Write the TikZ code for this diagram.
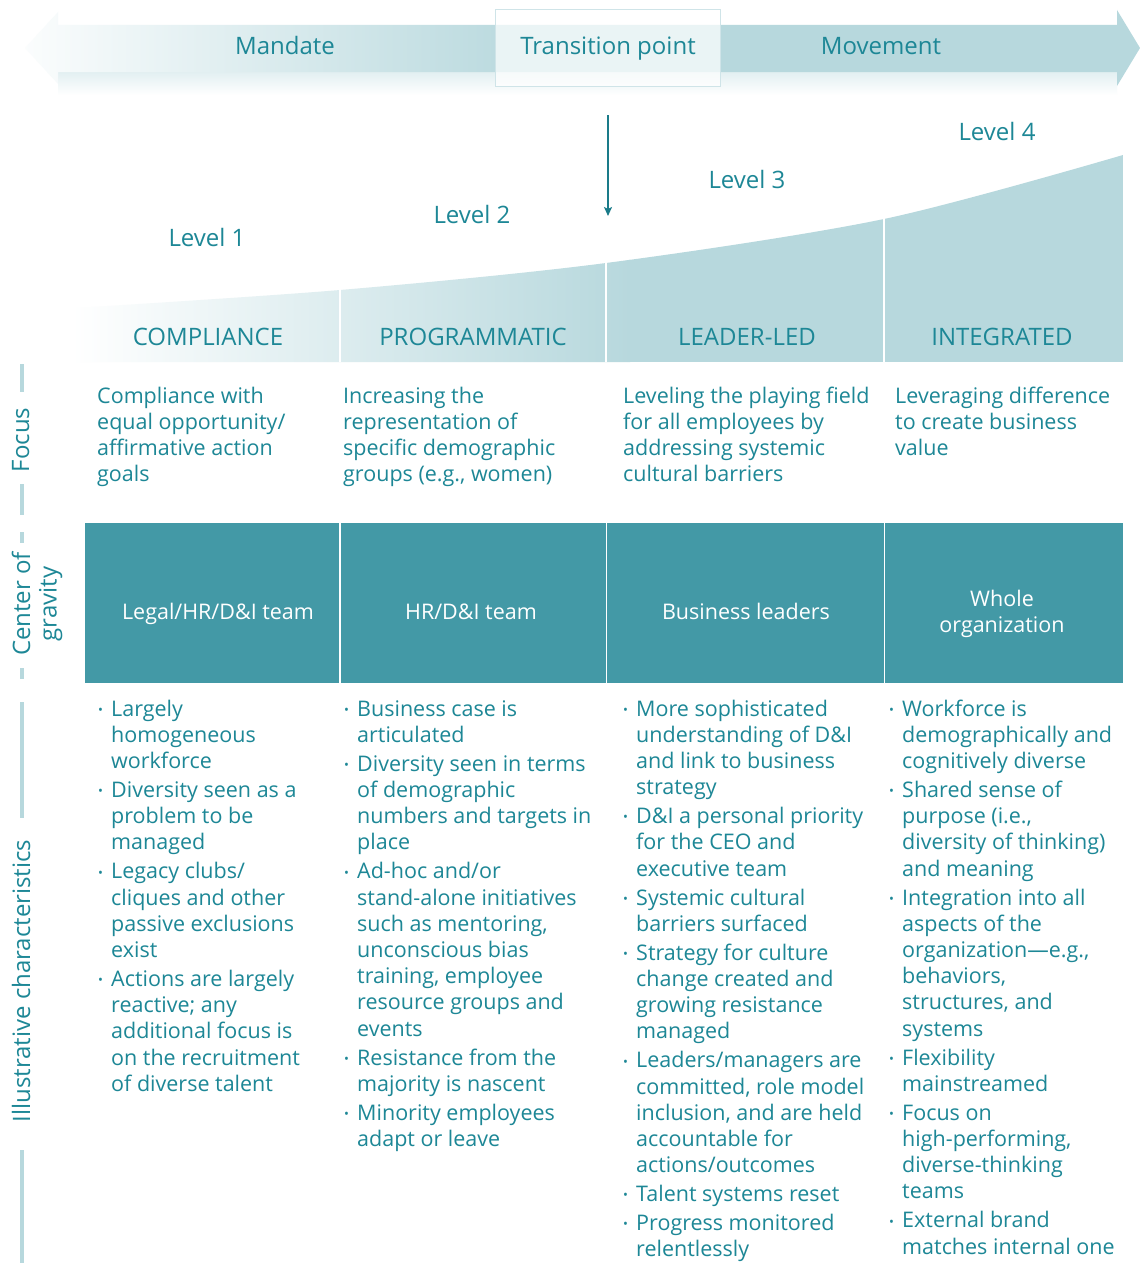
\documentclass[tikz,border=0pt]{standalone}
\usepackage{fontspec}
\setmainfont{Open Sans}
\usetikzlibrary{arrows.meta}
\definecolor{tealtxt}{HTML}{1D8796}
\definecolor{lb}{HTML}{B7D8DD}
\definecolor{dk}{HTML}{4399A6}
\definecolor{arrc}{HTML}{1A7B89}
\definecolor{boxedge}{HTML}{CFE4E8}
\newcommand{\bodyfont}{\fontsize{21.5}{26.2}\selectfont}
\newcommand{\bitem}[1]{\par\hangindent=13pt\hangafter=1\noindent\makebox[13pt][l]{\raisebox{1.8pt}{\fontsize{13}{13}\selectfont •}}\begingroup\let\\\newline #1\endgroup}
\newcommand{\blist}[1]{\parbox[t]{270pt}{\raggedright\bodyfont\setlength{\parskip}{2.83pt}#1}}
\newcommand{\ftext}[1]{\parbox[t]{280pt}{\raggedright\fontsize{21.5}{26}\selectfont #1}}
\begin{document}
\begin{tikzpicture}[x=1pt,y=-1pt,
  toplab/.style={font=\fontsize{24}{28}\selectfont, text=tealtxt, anchor=base, inner sep=0},
  levlab/.style={font=\fontsize{24}{28}\selectfont, text=tealtxt, anchor=base, inner sep=0},
  headlab/.style={font=\fontsize{24}{28}\selectfont, text=tealtxt, inner sep=0},
  bodytext/.style={text=tealtxt, anchor=base west, inner sep=0},
  cogbox/.style={fill=dk, inner sep=0, anchor=north west, minimum height=160pt},
  cogtext/.style={text=white, anchor=base, inner sep=0, font=\bodyfont},
  sidelab/.style={text=tealtxt, rotate=90, anchor=base, inner sep=0, font=\fontsize{24}{26.5}\selectfont},
  sideline/.style={draw=lb, line width=4.5pt},
  colsep/.style={draw=white, line width=1.8pt}]
\useasboundingbox (0,0) rectangle (1140,1263);
\fill[white] (0,0) rectangle (1140,1263);

% ---- top band ----
\shade[top color=lb!40, bottom color=white] (58,72) rectangle (1117,95);
\begin{scope}
  \clip (25,48) -- (58,12) -- (58,25) -- (1117,25) -- (1117,10) -- (1140,48) -- (1117,86) -- (1117,72) -- (58,72) -- (58,84) -- cycle;
  \shade[left color=lb!6, right color=lb!92] (25,0) rectangle (496,100);
  \fill[lb] (496,0) rectangle (1140,100);
\end{scope}
\node[draw=boxedge, line width=1.5pt, fill=white, fill opacity=0.72, text opacity=1,
      minimum width=225pt, minimum height=77pt, inner sep=0] (tpbox) at (608,48) {};
\node[toplab] (mandate) at (285,55) {Mandate};
\node[toplab] (transition) at (608,55) {Transition point};
\node[toplab] (movement) at (881,55) {Movement};

% ---- down arrow ----
\coordinate (dtop) at (608,115);
\coordinate (dbot) at (608,216);
\draw[arrc, line width=1.6pt, -{Stealth[length=9pt,width=8pt,inset=2pt]}] (dtop) -- (dbot);

% ---- levels ----
\node[levlab] (lev1) at (207,246) {Level 1};
\node[levlab] (lev2) at (472,223) {Level 2};
\node[levlab] (lev3) at (747,188) {Level 3};
\node[levlab] (lev4) at (997,140) {Level 4};

% ---- header area ----
\begin{scope}
  \clip (75,362) -- plot[smooth] coordinates {(75,308) (340,290) (606,263) (884,219) (1123,155)} -- (1123,362) -- cycle;
  \shade[left color=white, right color=lb] (72,140) rectangle (630,362);
  \fill[lb] (629,140) rectangle (1123,362);
\end{scope}
\draw[colsep] (340,240) -- (340,362);
\draw[colsep] (606,220) -- (606,362);
\draw[colsep] (884,200) -- (884,362);
\node[headlab] (h1) at (208,337) {COMPLIANCE};
\node[headlab] (h2) at (473,337) {PROGRAMMATIC};
\node[headlab] (h3) at (747,337) {LEADER-LED};
\node[headlab] (h4) at (1002,337) {INTEGRATED};

% ---- focus row ----
\node[bodytext] (f1) at (97,403) {\ftext{Compliance with\\equal opportunity/\\affirmative action\\goals}};
\node[bodytext] (f2) at (343,403) {\ftext{Increasing the\\representation of\\specific demographic\\groups (e.g., women)}};
\node[bodytext] (f3) at (623,403) {\ftext{Leveling the playing field\\for all employees by\\addressing systemic\\cultural barriers}};
\node[bodytext] (f4) at (895,403) {\ftext{Leveraging difference\\to create business\\value}};

% ---- center of gravity row ----
\node[cogbox, minimum width=254.2pt] (cog1) at (85,523) {};
\node[cogbox, minimum width=264.6pt] (cog2) at (341,523) {};
\node[cogbox, minimum width=276.6pt] (cog3) at (607,523) {};
\node[cogbox, minimum width=238pt] (cog4) at (885,523) {};
\node[cogtext] (cogt1) at (218,619) {Legal/HR/D\&I team};
\node[cogtext] (cogt2) at (471,619) {HR/D\&I team};
\node[cogtext] (cogt3) at (746,619) {Business leaders};
\node[cogtext] (cogt4) at (1002,606) {\parbox[t]{220pt}{\centering Whole\\organization}};

% ---- illustrative characteristics ----
\node[bodytext] (b1) at (98,716) {\blist{%
\bitem{Largely\\homogeneous\\workforce}
\bitem{Diversity seen as a\\problem to be\\managed}
\bitem{Legacy clubs/\\cliques and other\\passive exclusions\\exist}
\bitem{Actions are largely\\reactive; any\\additional focus is\\on the recruitment\\of diverse talent}}};
\node[bodytext] (b2) at (344,716) {\blist{%
\bitem{Business case is\\articulated}
\bitem{Diversity seen in terms\\of demographic\\numbers and targets in\\place}
\bitem{Ad-hoc and/or\\stand-alone initiatives\\such as mentoring,\\unconscious bias\\training, employee\\resource groups and\\events}
\bitem{Resistance from the\\majority is nascent}
\bitem{Minority employees\\adapt or leave}}};
\node[bodytext] (b3) at (623,716) {\blist{%
\bitem{More sophisticated\\understanding of D\&I\\and link to business\\strategy}
\bitem{D\&I a personal priority\\for the CEO and\\executive team}
\bitem{Systemic cultural\\barriers surfaced}
\bitem{Strategy for culture\\change created and\\growing resistance\\managed}
\bitem{Leaders/managers are\\committed, role model\\inclusion, and are held\\accountable for\\actions/outcomes}
\bitem{Talent systems reset}
\bitem{Progress monitored\\relentlessly}}};
\node[bodytext] (b4) at (889,716) {\blist{%
\bitem{Workforce is\\demographically and\\cognitively diverse}
\bitem{Shared sense of\\purpose (i.e.,\\diversity of thinking)\\and meaning}
\bitem{Integration into all\\aspects of the\\organization—e.g.,\\behaviors,\\structures, and\\systems}
\bitem{Flexibility\\mainstreamed}
\bitem{Focus on\\high-performing,\\diverse-thinking\\teams}
\bitem{External brand\\matches internal one}}};

% ---- side labels ----
\node[sidelab] (focus) at (29,440) {Focus};
\node[sidelab] (cog) at (30,604) {\parbox[t]{160pt}{\centering Center of\\gravity}};
\node[sidelab] (illus) at (30,981) {Illustrative characteristics};
\draw[sideline] (22,364) -- (22,392);
\draw[sideline] (22,484) -- (22,515);
\draw[sideline] (22,532) -- (22,543);
\draw[sideline] (22,668) -- (22,679);
\draw[sideline] (22,702) -- (22,818);
\draw[sideline] (22,1150) -- (22,1263);
\end{tikzpicture}
\end{document}
